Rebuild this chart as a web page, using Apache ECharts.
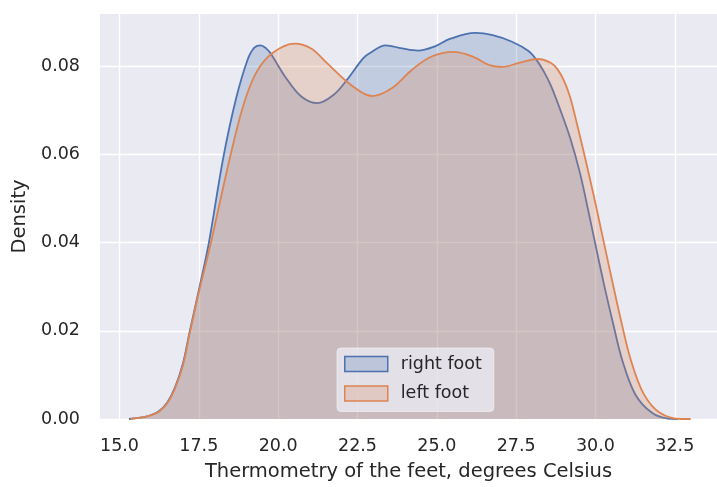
<!DOCTYPE html>
<html>
<head>
<meta charset="utf-8">
<script src="https://cdn.jsdelivr.net/npm/echarts@6/dist/echarts.min.js"></script>
<style>
html,body{margin:0;padding:0;background:#ffffff;}
#chart{width:717px;height:487px;}
</style>
</head>
<body>
<div id="chart"></div>
<script>
const seriesNames = ['right foot', 'left foot'];
const seriesColors = ['#4c72b0', '#dd8452'];
const xTicks = [15.0, 17.5, 20.0, 22.5, 25.0, 27.5, 30.0, 32.5];
const yTicks = [0.00, 0.02, 0.04, 0.06, 0.08];
const xLabel = 'Thermometry of the feet, degrees Celsius';
const yLabel = 'Density';

const rightFoot = [
  [15.30, 0.0000], [15.80, 0.0005], [16.00, 0.0009], [16.23, 0.0017], [16.50, 0.0037],
  [16.74, 0.0070], [17.00, 0.0126], [17.20, 0.0194], [17.51, 0.0295], [17.81, 0.0397],
  [18.27, 0.0592], [18.68, 0.0728], [19.04, 0.0815], [19.25, 0.0842], [19.45, 0.0847],
  [19.62, 0.0840], [19.76, 0.0829], [20.22, 0.0776], [20.73, 0.0731], [21.24, 0.0716],
  [21.75, 0.0735], [22.16, 0.0768], [22.67, 0.0817], [22.88, 0.0829], [23.39, 0.0847],
  [23.90, 0.0840], [24.41, 0.0835], [24.92, 0.0844], [25.43, 0.0862], [26.20, 0.0875],
  [26.76, 0.0870], [27.37, 0.0855], [27.89, 0.0834], [28.14, 0.0814], [28.40, 0.0784],
  [28.60, 0.0755], [28.91, 0.0697], [29.22, 0.0633], [29.52, 0.0555], [29.78, 0.0470],
  [30.05, 0.0378], [30.30, 0.0295], [30.55, 0.0218], [30.85, 0.0132], [31.26, 0.0055],
  [31.78, 0.0014], [32.28, 0.0001], [32.60, 0.0000]
];

const leftFoot = [
  [15.35, 0.0000], [15.80, 0.0005], [16.00, 0.0009], [16.23, 0.0016], [16.50, 0.0035],
  [16.74, 0.0068], [17.00, 0.0122], [17.20, 0.0190], [17.51, 0.0290], [17.85, 0.0390],
  [18.48, 0.0592], [18.89, 0.0708], [19.30, 0.0784], [19.81, 0.0829], [20.52, 0.0851],
  [21.04, 0.0840], [21.55, 0.0806], [22.16, 0.0765], [22.67, 0.0739], [22.98, 0.0732],
  [23.59, 0.0750], [24.21, 0.0791], [24.82, 0.0821], [25.53, 0.0832], [26.15, 0.0821],
  [26.66, 0.0802], [27.07, 0.0798], [27.58, 0.0807], [28.19, 0.0816], [28.60, 0.0807],
  [28.80, 0.0793], [29.00, 0.0768], [29.20, 0.0730], [29.42, 0.0668], [29.68, 0.0590],
  [29.95, 0.0505], [30.22, 0.0415], [30.50, 0.0322], [30.80, 0.0225], [31.11, 0.0135],
  [31.52, 0.0057], [32.03, 0.0014], [32.70, 0.0000], [33.00, 0.0000]
];

const seriesData = [rightFoot, leftFoot];

function hexToRgba(hex, a) {
  const n = parseInt(hex.slice(1), 16);
  return 'rgba(' + ((n >> 16) & 255) + ',' + ((n >> 8) & 255) + ',' + (n & 255) + ',' + a + ')';
}

const FONT = 'DejaVu Sans';
const TEXT = '#262626';

const chart = echarts.init(document.getElementById('chart'), null, {renderer: 'canvas'});

chart.setOption({
  animation: false,
  backgroundColor: '#ffffff',
  grid: {
    left: 100, top: 14, bottom: 66, right: -16.7,
    show: true, backgroundColor: '#eaeaf2', borderWidth: 0
  },
  xAxis: {
    type: 'value',
    min: 14.386, max: 33.83,
    name: xLabel,
    nameLocation: 'middle',
    nameGap: 43,
    nameTextStyle: {fontFamily: FONT, fontSize: 19.5, color: TEXT},
    axisLine: {show: false},
    axisTick: {show: false, customValues: xTicks},
    axisLabel: {
      customValues: xTicks,
      margin: 18,
      fontFamily: FONT, fontSize: 17.5, color: TEXT,
      formatter: v => Number(v).toFixed(1)
    },
    splitLine: {show: true, lineStyle: {color: '#ffffff', width: 1.4}}
  },
  yAxis: {
    type: 'value',
    min: 0, max: 0.0918,
    name: yLabel,
    nameLocation: 'middle',
    nameGap: 66,
    nameTextStyle: {fontFamily: FONT, fontSize: 19.5, color: TEXT},
    axisLine: {show: false},
    axisTick: {show: false, customValues: yTicks},
    axisLabel: {
      customValues: yTicks,
      margin: 20,
      fontFamily: FONT, fontSize: 17.5, color: TEXT,
      formatter: v => Number(v).toFixed(2)
    },
    splitLine: {show: true, lineStyle: {color: '#ffffff', width: 1.4}}
  },
  legend: {
    orient: 'vertical',
    left: 337, top: 348,
    padding: [6, 12, 8, 7],
    itemGap: 9.5,
    itemWidth: 43,
    itemHeight: 15,
    backgroundColor: 'rgba(234,234,242,0.8)',
    borderColor: 'rgba(255,255,255,0.5)',
    borderWidth: 1,
    borderRadius: 4,
    textStyle: {fontFamily: FONT, fontSize: 17.5, color: TEXT, lineHeight: 20, padding: [0, 0, 0, 8]},
    data: seriesNames.map((n, i) => ({
      name: n,
      icon: 'rect',
      itemStyle: {color: hexToRgba(seriesColors[i], 0.25), borderColor: seriesColors[i], borderWidth: 1.5}
    }))
  },
  series: seriesNames.map((n, i) => ({
    name: n,
    type: 'line',
    data: seriesData[i],
    smooth: 0.35,
    showSymbol: false,
    symbol: 'none',
    color: seriesColors[i],
    lineStyle: {color: seriesColors[i], width: 1.8},
    areaStyle: {color: seriesColors[i], opacity: 0.25},
    z: 2 + i
  }))
});
</script>
</body>
</html>
